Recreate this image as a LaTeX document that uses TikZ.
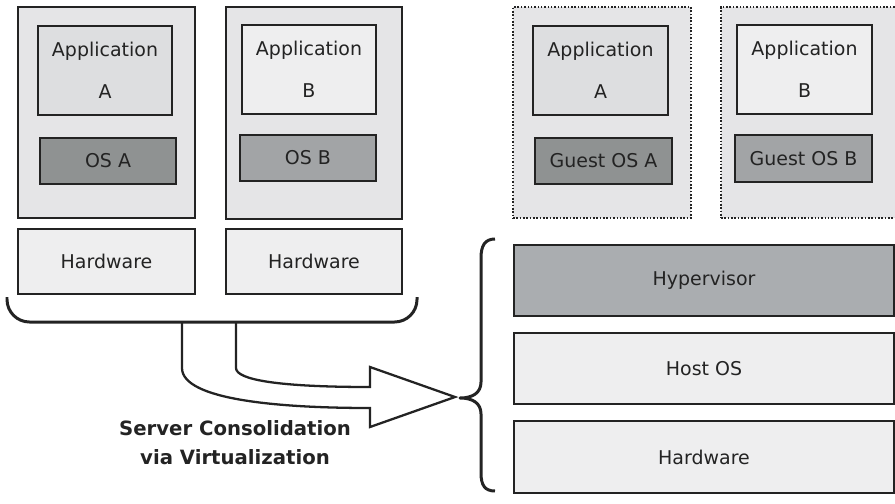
\documentclass[tikz,border=0pt]{standalone}
\usepackage{fontspec}
\setmainfont{DejaVu Sans}
\usetikzlibrary{positioning,calc}
\usepackage{xcolor}
\definecolor{Edge}{HTML}{232323}
\definecolor{Frame}{HTML}{E5E5E7}
\definecolor{AppDark}{HTML}{DDDEE0}
\definecolor{Light}{HTML}{EEEEEF}
\definecolor{OsDark}{HTML}{8F9292}
\definecolor{OsMid}{HTML}{A2A4A6}
\definecolor{Hyper}{HTML}{AAADB0}
\newcommand{\lblfont}{\fontsize{10.8}{23.8}\selectfont}
\tikzset{
  layer/.style={draw=Edge,line width=1pt,inner sep=0pt,align=center,font=\lblfont,text=Edge},
  frame/.style={layer,fill=Frame},
  vmframe/.style={fill=Frame,draw=Edge,line width=0.9pt,densely dotted,inner sep=0pt},
  bracketline/.style={draw=Edge,line width=1.7pt,line join=round},
}
\begin{document}
\begin{tikzpicture}[x=1cm,y=1cm]
\useasboundingbox (0,0) rectangle (17.9,10.06);
% physical servers
\node[frame,minimum width=3.54cm,minimum height=4.22cm] (serverA) at (2.13,7.81) {};
\node[layer,fill=AppDark,minimum width=2.68cm,minimum height=1.78cm] (appA) at (2.10,8.65) {Application\\A};
\node[layer,fill=OsDark,minimum width=2.72cm,minimum height=0.92cm] (osA) at (2.16,6.84) {OS A};
\node[frame,minimum width=3.52cm,minimum height=4.24cm] (serverB) at (6.28,7.80) {};
\node[layer,fill=Light,minimum width=2.68cm,minimum height=1.78cm] (appB) at (6.18,8.67) {Application\\B};
\node[layer,fill=OsMid,minimum width=2.72cm,minimum height=0.92cm] (osB) at (6.16,6.90) {OS B};
\node[layer,fill=Light,minimum width=3.54cm,minimum height=1.30cm] (hwA) at (2.13,4.83) {Hardware};
\node[layer,fill=Light,minimum width=3.52cm,minimum height=1.30cm] (hwB) at (6.28,4.83) {Hardware};
% virtual machines
\node[vmframe,minimum width=3.56cm,minimum height=4.22cm] (vmA) at (12.04,7.81) {};
\node[layer,fill=AppDark,minimum width=2.70cm,minimum height=1.78cm] (vappA) at (12.01,8.65) {Application\\A};
\node[layer,fill=OsDark,minimum width=2.74cm,minimum height=0.92cm] (gosA) at (12.07,6.84) {Guest OS A};
\node[vmframe,minimum width=3.70cm,minimum height=4.22cm] (vmB) at (16.27,7.81) {};
\node[layer,fill=Light,minimum width=2.70cm,minimum height=1.78cm] (vappB) at (16.09,8.67) {Application\\B};
\node[layer,fill=OsMid,minimum width=2.74cm,minimum height=0.94cm] (gosB) at (16.07,6.89) {Guest OS B};
% host stack
\node[layer,fill=Hyper,minimum width=7.60cm,minimum height=1.42cm] (hyper) at (14.08,4.45) {Hypervisor};
\node[layer,fill=Light,minimum width=7.60cm,minimum height=1.42cm] (hostos) at (14.08,2.69) {Host OS};
\node[layer,fill=Light,minimum width=7.60cm,minimum height=1.44cm] (hwC) at (14.08,0.92) {Hardware};
% bracket under the two servers
\draw[bracketline,rounded corners=0.45cm] (0.14,4.12) -- (0.14,3.62) -- (8.34,3.62) -- (8.34,4.12);
% brace left of the host stack
\draw[bracketline] (9.90,5.28) .. controls (9.70,5.28) and (9.62,5.15) .. (9.62,4.90)
  -- (9.62,2.42) .. controls (9.62,2.20) and (9.45,2.10) .. (9.20,2.10)
  .. controls (9.45,2.10) and (9.62,2.00) .. (9.62,1.78)
  -- (9.62,0.60) .. controls (9.62,0.35) and (9.70,0.24) .. (9.90,0.24);
% consolidation arrow
\draw[draw=Edge,line width=1.3pt,line join=miter] (3.64,3.62) -- (3.64,2.70)
  .. controls (3.64,2.06) and (5.60,1.90) .. (7.40,1.90)
  -- (7.40,1.52) -- (9.10,2.12) -- (7.40,2.72) -- (7.40,2.32)
  .. controls (5.60,2.32) and (4.72,2.46) .. (4.72,2.70) -- (4.72,3.62);
\node[font=\fontsize{11.2}{16.5}\selectfont\bfseries,text=Edge,align=center] (label) at (4.70,1.21) {Server Consolidation\\via Virtualization};
\end{tikzpicture}
\end{document}
